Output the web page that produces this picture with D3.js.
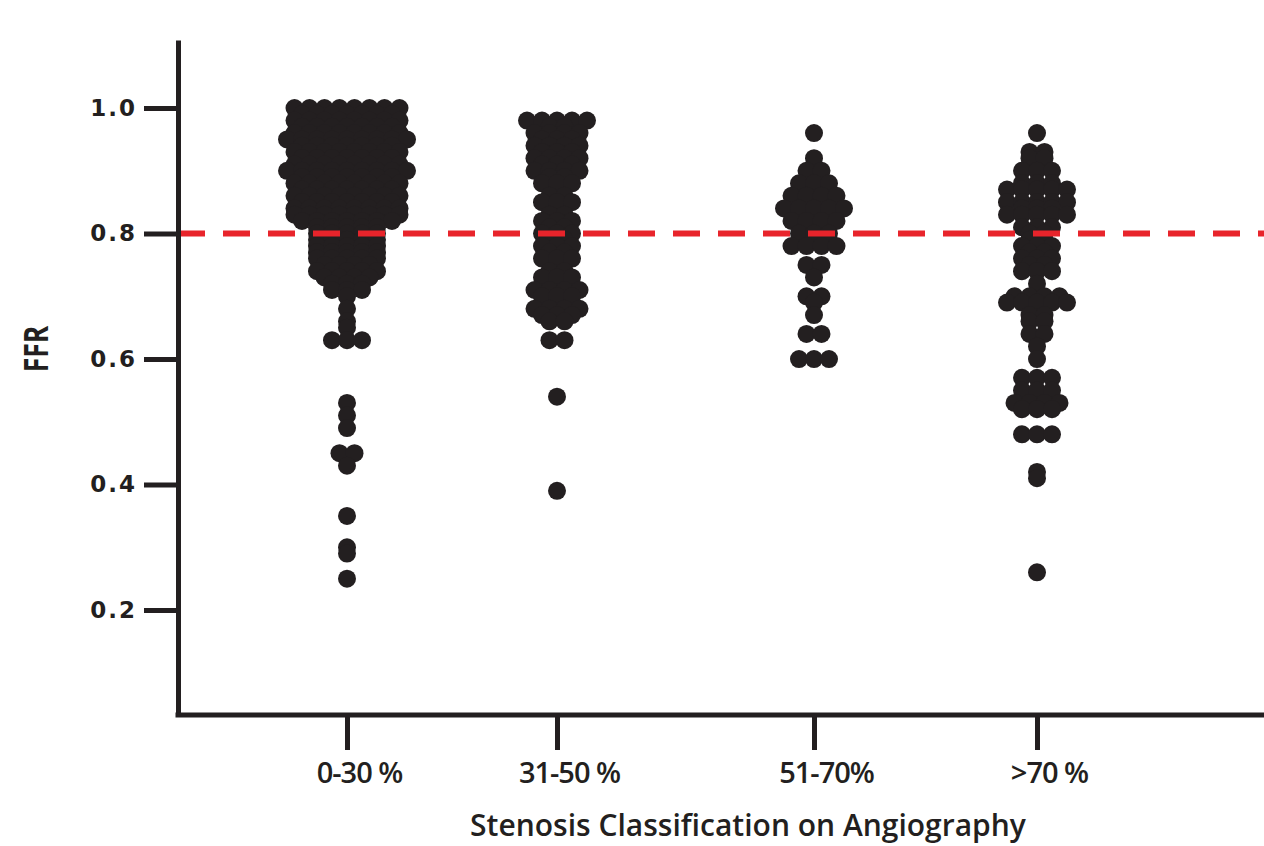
<!DOCTYPE html>
<html>
<head>
<meta charset="utf-8">
<script src="https://cdn.jsdelivr.net/npm/d3@7"></script>
<style>
	body { margin: 0; background: #fff; }
	svg { display: block; }
</style>
</head>
<body>
<svg id="chart"></svg>
<script>
// Categories on the x axis
const categories = ['0-30 %', '31-50 %', '51-70%', '>70 %'];

// FFR values per stenosis class (one entry per lesion)
const ffr0to30 = [
	1.00, 1.00, 1.00, 1.00, 1.00, 1.00, 1.00, 1.00,
	0.99, 0.99, 0.99, 0.99, 0.99, 0.99, 0.99,
	0.98, 0.98, 0.98, 0.98, 0.98, 0.98, 0.98, 0.98,
	0.97, 0.97, 0.97, 0.97, 0.97, 0.97, 0.97,
	0.96, 0.96, 0.96, 0.96, 0.96, 0.96, 0.96, 0.96,
	0.95, 0.95, 0.95, 0.95, 0.95, 0.95, 0.95, 0.95, 0.95,
	0.94, 0.94, 0.94, 0.94, 0.94, 0.94, 0.94,
	0.93, 0.93, 0.93, 0.93, 0.93, 0.93, 0.93, 0.93,
	0.92, 0.92, 0.92, 0.92, 0.92, 0.92, 0.92,
	0.91, 0.91, 0.91, 0.91, 0.91, 0.91, 0.91, 0.91,
	0.90, 0.90, 0.90, 0.90, 0.90, 0.90, 0.90, 0.90, 0.90,
	0.89, 0.89, 0.89, 0.89, 0.89, 0.89, 0.89,
	0.88, 0.88, 0.88, 0.88, 0.88, 0.88, 0.88, 0.88,
	0.87, 0.87, 0.87, 0.87, 0.87, 0.87, 0.87,
	0.86, 0.86, 0.86, 0.86, 0.86, 0.86, 0.86, 0.86,
	0.85, 0.85, 0.85, 0.85, 0.85, 0.85, 0.85,
	0.84, 0.84, 0.84, 0.84, 0.84, 0.84, 0.84, 0.84,
	0.83, 0.83, 0.83, 0.83, 0.83, 0.83, 0.83, 0.83,
	0.82, 0.82, 0.82, 0.82, 0.82, 0.82, 0.82,
	0.81, 0.81, 0.81, 0.81, 0.81,
	0.80, 0.80, 0.80, 0.80, 0.80,
	0.79, 0.79, 0.79, 0.79, 0.79,
	0.78, 0.78, 0.78, 0.78, 0.78,
	0.77, 0.77, 0.77, 0.77, 0.77,
	0.76, 0.76, 0.76, 0.76, 0.76,
	0.75, 0.75, 0.75, 0.75,
	0.74, 0.74, 0.74, 0.74, 0.74,
	0.73, 0.73, 0.73, 0.73,
	0.72, 0.72, 0.72,
	0.71, 0.71, 0.71,
	0.70, 0.68, 0.66, 0.65,
	0.63, 0.63, 0.63,
	0.53, 0.51, 0.49,
	0.45, 0.45, 0.43,
	0.35, 0.30, 0.29, 0.25
];
const ffr31to50 = [
	0.98, 0.98, 0.98, 0.98, 0.98,
	0.97, 0.97,
	0.96, 0.96, 0.96, 0.96,
	0.95, 0.95, 0.95,
	0.94, 0.94, 0.94, 0.94,
	0.93, 0.93, 0.93,
	0.92, 0.92, 0.92, 0.92,
	0.91, 0.91, 0.91,
	0.90, 0.90, 0.90, 0.90,
	0.89, 0.89,
	0.88, 0.88, 0.88,
	0.86, 0.86, 0.85, 0.85, 0.85,
	0.83, 0.83, 0.82, 0.82, 0.82,
	0.81, 0.81, 0.80, 0.80, 0.80,
	0.79, 0.79, 0.78, 0.78, 0.78,
	0.77, 0.77, 0.76, 0.76, 0.76,
	0.74, 0.74, 0.73, 0.73, 0.73,
	0.71, 0.71, 0.71, 0.71, 0.70, 0.70, 0.70,
	0.68, 0.68, 0.68, 0.68, 0.67, 0.67, 0.67, 0.66, 0.66,
	0.63, 0.63,
	0.54, 0.39
];
const ffr51to70 = [
	0.96, 0.92, 0.90, 0.90,
	0.88, 0.88, 0.88,
	0.86, 0.86, 0.86, 0.86,
	0.84, 0.84, 0.84, 0.84, 0.84,
	0.82, 0.82, 0.82, 0.82,
	0.80, 0.80, 0.80,
	0.78, 0.78, 0.78, 0.78,
	0.75, 0.75, 0.73,
	0.70, 0.70, 0.69, 0.67,
	0.64, 0.64,
	0.60, 0.60, 0.60
];
const ffrAbove70 = [
	0.96, 0.93, 0.93, 0.92, 0.92,
	0.90, 0.90, 0.90, 0.88, 0.88, 0.88,
	0.87, 0.87, 0.87, 0.87, 0.87,
	0.85, 0.85, 0.85, 0.85, 0.85,
	0.84, 0.84, 0.84,
	0.83, 0.83, 0.83, 0.83, 0.83,
	0.81, 0.81, 0.81, 0.80, 0.80,
	0.79, 0.79, 0.78, 0.78, 0.78,
	0.77, 0.77, 0.76, 0.76, 0.76,
	0.75, 0.75, 0.74, 0.74, 0.74, 0.72,
	0.70, 0.70, 0.70, 0.70,
	0.69, 0.69, 0.69, 0.69, 0.69,
	0.67, 0.67, 0.66, 0.66, 0.64, 0.64,
	0.62, 0.60,
	0.57, 0.57, 0.57, 0.55, 0.55, 0.55,
	0.53, 0.53, 0.53, 0.53, 0.52, 0.52, 0.52,
	0.48, 0.48, 0.48,
	0.42, 0.41, 0.26
];
const seriesValues = [ffr0to30, ffr31to50, ffr51to70, ffrAbove70];

// Axis ticks and reference line
const yTicks = [0.2, 0.4, 0.6, 0.8, 1.0];
const cutoff = 0.8;

const width = 1264, height = 846;
const margin = { left: 178, right: 0, top: 40, bottom: 131 };
const ink = '#231f20';
const dotGap = 15;

const svg = d3.select('#chart')
	.attr('width', width)
	.attr('height', height);

const y = d3.scaleLinear()
	.domain([0.0327, 1.1084])
	.range([height - margin.bottom, margin.top]);

// category columns are not evenly spaced in the original
const x = d3.scaleOrdinal()
	.domain(categories)
	.range([347, 557, 814, 1037]);

// Scatter-dot layout: equal values sit side by side, centred on the category
const rowLayout = (values) => {
	let rows = d3.group(values, (v) => v.toFixed(2));
	let pts = [];
	for (let [, row] of rows) {
		row.forEach((v, j) => pts.push({ v: v, dx: (j - (row.length - 1) / 2) * dotGap }));
	}
	return pts;
};

// dots
let dots = svg.append('g');
categories.forEach((cat, i) => {
	dots.selectAll(null)
		.data(rowLayout(seriesValues[i]))
		.enter()
		.append('circle')
		.attr('cx', (d) => x(cat) + d.dx)
		.attr('cy', (d) => y(d.v))
		.attr('r', 9)
		.style('fill', ink);
});

// cutoff line
svg.append('line')
	.attr('x1', margin.left)
	.attr('x2', width)
	.attr('y1', y(cutoff))
	.attr('y2', y(cutoff))
	.attr('stroke', '#e8242b')
	.attr('stroke-width', 6)
	.attr('stroke-dasharray', '27 18');

// y axis
let yAxis = svg.append('g')
	.attr('transform', `translate(${margin.left},0)`)
	.call(d3.axisLeft(y).tickValues(yTicks).tickFormat(d3.format('.1f')).tickSize(34).tickSizeOuter(0).tickPadding(7));
yAxis.select('.domain').attr('stroke', ink).attr('stroke-width', 5);
yAxis.selectAll('.tick line').attr('stroke', ink).attr('stroke-width', 5);
yAxis.selectAll('.tick text')
	.attr('fill', ink)
	.style('font-family', '"DejaVu Sans", sans-serif')
	.style('font-weight', 'bold')
	.style('font-size', '23px')
	.style('letter-spacing', '2px');

// x axis
let xAxis = svg.append('g')
	.attr('transform', `translate(0,${height - margin.bottom})`)
	.call(d3.axisBottom(x).tickSize(35).tickSizeOuter(0).tickPadding(12));
xAxis.select('.domain')
	.attr('d', `M${margin.left - 2.5},0H${width}`)
	.attr('stroke', ink).attr('stroke-width', 5);
xAxis.selectAll('.tick line').attr('stroke', ink).attr('stroke-width', 5);
xAxis.selectAll('.tick text')
	.attr('fill', ink)
	.attr('dx', 12)
	.style('font-family', '"Open Sans", sans-serif')
	.style('font-weight', 600)
	.style('font-size', '29px')
	.style('letter-spacing', '-1px');

// axis titles
svg.append('text')
	.attr('transform', `translate(48,${y(0.6) - 10}) rotate(-90) scale(0.78,1)`)
	.attr('text-anchor', 'middle')
	.attr('fill', ink)
	.style('font-family', '"Open Sans", sans-serif')
	.style('font-weight', 700)
	.style('font-size', '34px')
	.text('FFR');

svg.append('text')
	.attr('x', 748)
	.attr('y', 836)
	.attr('text-anchor', 'middle')
	.attr('fill', ink)
	.style('font-family', '"Open Sans", sans-serif')
	.style('font-weight', 600)
	.style('font-size', '30px')
	.text('Stenosis Classification on Angiography');
</script>
</body>
</html>
